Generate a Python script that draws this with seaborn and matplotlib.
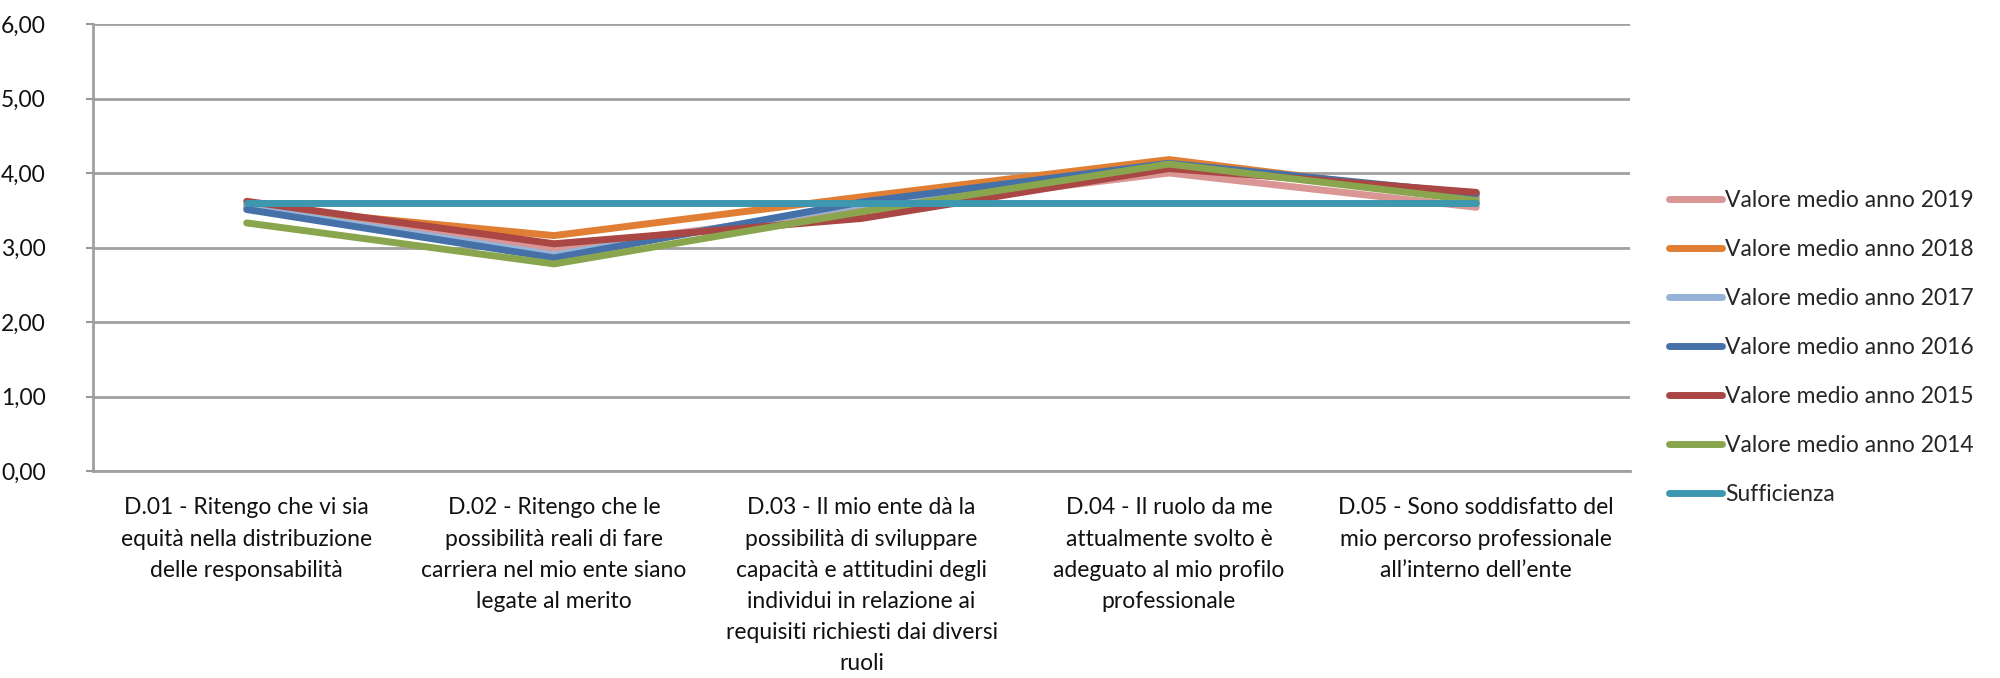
import numpy as np
import pandas as pd
import seaborn as sns
import matplotlib.pyplot as plt
from matplotlib.ticker import FuncFormatter

# ==========================================
# Data
# ==========================================
CATEGORIES = [
    "D.01 - Ritengo che vi sia\nequità nella distribuzione\ndelle responsabilità",
    "D.02 - Ritengo che le\npossibilità reali di fare\ncarriera nel mio ente siano\nlegate al merito",
    "D.03 - Il mio ente dà la\npossibilità di sviluppare\ncapacità e attitudini degli\nindividui in relazione ai\nrequisiti richiesti dai diversi\nruoli",
    "D.04 - Il ruolo da me\nattualmente svolto è\nadeguato al mio profilo\nprofessionale",
    "D.05 - Sono soddisfatto del\nmio percorso professionale\nall’interno dell’ente",
]
SERIES_NAMES = [
    "Valore medio anno 2019",
    "Valore medio anno 2018",
    "Valore medio anno 2017",
    "Valore medio anno 2016",
    "Valore medio anno 2015",
    "Valore medio anno 2014",
    "Sufficienza",
]
VAL_2019 = [3.58, 2.99, 3.50, 4.00, 3.54]
VAL_2018 = [3.55, 3.16, 3.68, 4.18, 3.67]
VAL_2017 = [3.54, 2.90, 3.58, 4.12, 3.70]
VAL_2016 = [3.51, 2.86, 3.61, 4.13, 3.72]
VAL_2015 = [3.62, 3.05, 3.39, 4.06, 3.74]
VAL_2014 = [3.33, 2.78, 3.48, 4.12, 3.63]
SUFFICIENZA = [3.60, 3.60, 3.60, 3.60, 3.60]

COLORS = ["#D99694", "#E07F34", "#95B3D7", "#4571A8", "#AA4643", "#89A54E", "#3D97AF"]

all_values = [VAL_2019, VAL_2018, VAL_2017, VAL_2016, VAL_2015, VAL_2014, SUFFICIENZA]
rows = []
for name, vals in zip(SERIES_NAMES, all_values):
    for i, v in enumerate(vals):
        rows.append({"pos": i, "serie": name, "valore": v})
df = pd.DataFrame(rows)

# ==========================================
# Plot
# ==========================================
sns.set_style("white")
plt.rcParams["font.family"] = ["Lato", "DejaVu Sans"]

fig = plt.figure(figsize=(20, 6.78), dpi=100)
ax = fig.add_axes([0.0465, 0.3053, 0.7685, 0.6593])

sns.lineplot(data=df, x="pos", y="valore", hue="serie", hue_order=SERIES_NAMES,
             palette=COLORS, linewidth=5, ax=ax, sort=False,
             solid_capstyle="round", solid_joinstyle="miter")

ax.set_xlim(-0.5, len(CATEGORIES) - 0.5)
ax.set_ylim(0, 6)
ax.set_yticks(np.arange(0, 7, 1))
ax.yaxis.set_major_formatter(FuncFormatter(lambda v, p: f"{v:.2f}".replace(".", ",")))
ax.set_xticks(range(len(CATEGORIES)))
ax.set_xticklabels(CATEGORIES, fontsize=16.5, linespacing=1.6, color="#111111")
ax.tick_params(axis="y", labelsize=16.5, length=5, width=1.5, color="#999999",
               left=True, pad=29, labelcolor="#111111")
ax.tick_params(axis="x", length=0, pad=19)
ax.set_xlabel("")
ax.set_ylabel("")

ax.yaxis.grid(True, color="#A0A0A0", linewidth=2)
ax.set_axisbelow(True)
for side in ["top", "right"]:
    ax.spines[side].set_visible(False)
for side in ["left", "bottom"]:
    ax.spines[side].set_color("#A0A0A0")
    ax.spines[side].set_linewidth(2)

leg = ax.legend(loc="center left", bbox_to_anchor=(1.012, 0.277), frameon=False,
                fontsize=16.5, handlelength=2.3, handletextpad=0.15, labelspacing=1.22)
for line in leg.get_lines():
    line.set_linewidth(5)
    line.set_solid_capstyle("round")

fig.savefig("out.png", dpi=100)
